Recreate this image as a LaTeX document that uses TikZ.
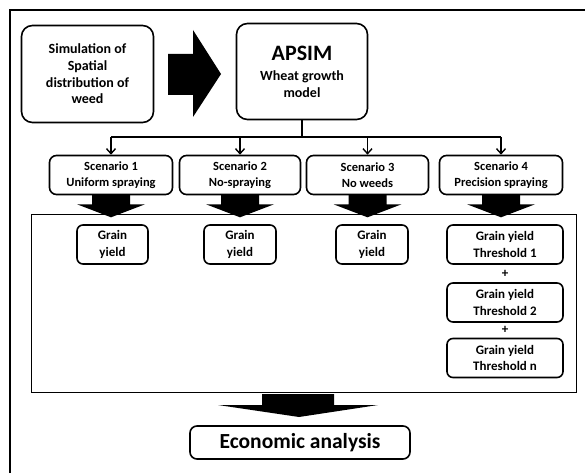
\documentclass[tikz,border=0pt]{standalone}
\usepackage{fontspec}
\setmainfont{Carlito}
\usetikzlibrary{arrows.meta}
\begin{document}
\begin{tikzpicture}[x=1pt,y=-1pt,
  box/.style={draw, line width=1.6pt, rounded corners=#1, align=center, inner sep=0pt},
  bigtxt/.style={font=\bfseries\fontsize{14}{16.7}\selectfont},
  scentxt/.style={font=\bfseries\fontsize{12.5}{16}\selectfont},
  graintxt/.style={font=\bfseries\fontsize{13}{16.5}\selectfont},
  conn/.style={line width=1.4pt},
  blk/.style={fill=black}]
\useasboundingbox (0,0) rectangle (585,473);
% outer frame
\draw[line width=1.2pt] (10,473) -- (10,10) -- (585,10);
% top row
\node[box=11pt, minimum width=132pt, minimum height=97pt, bigtxt] (sim) at (87.5,74)
  {Simulation of\\Spatial\\distribution of\\weed};
\node[box=11pt, minimum width=131pt, minimum height=96pt, font=\bfseries\fontsize{14}{17}\selectfont] (apsim) at (302,71.5)
  {{\fontsize{22}{24}\selectfont APSIM}\\[3pt]Wheat growth\\model};
\fill[blk] (168,54) -- (193,54) -- (193,30) -- (221,74) -- (193,117) -- (193,95) -- (168,95) -- cycle;
% scenarios
\node[box=7pt, minimum width=123pt, minimum height=39pt, scentxt] (s1) at (111,175) {Scenario 1\\Uniform spraying};
\node[box=7pt, minimum width=121pt, minimum height=39pt, scentxt] (s2) at (240,175) {Scenario 2\\No-spraying};
\node[box=7pt, minimum width=122pt, minimum height=39pt, scentxt] (s3) at (367.5,175) {Scenario 3\\No weeds};
\node[box=7pt, minimum width=123pt, minimum height=39pt, scentxt] (s4) at (501,175) {Scenario 4\\Precision spraying};
\coordinate (bus) at (0,137);
\draw[conn] (apsim.south) -- (apsim.south |- bus);
\draw[conn] (s1.north |- bus) -- (s4.north |- bus);
\foreach \s in {s1,s2,s3,s4}
  \draw[conn,-{Straight Barb[length=5pt,width=9pt]}] (\s.north |- bus) -- (\s.north);
% panel
\node[draw, line width=1.4pt, minimum width=545pt, minimum height=178pt, inner sep=0pt] (panel) at (304,303.5) {};
% block arrows under scenarios
\foreach \s in {s1,s2,s3,s4}
  \fill[blk, shift={(\s.south)}] (-19,-1) -- (19,-1) -- (19,9) -- (34,9) -- (0,22) -- (-34,9) -- (-19,9) -- cycle;
% grain yields
\node[box=6pt, minimum width=71pt, minimum height=39pt, graintxt] (g1) at (112.5,244.5) {Grain\\yield};
\node[box=6pt, minimum width=72pt, minimum height=39pt, graintxt] (g2) at (240,244.5) {Grain\\yield};
\node[box=6pt, minimum width=72pt, minimum height=39pt, graintxt] (g3) at (372,244.5) {Grain\\yield};
\node[box=6pt, minimum width=116pt, minimum height=39pt, graintxt] (g4a) at (505,244.5) {Grain yield\\Threshold 1};
\node[graintxt, inner sep=0pt] (p1) at (505,273.5) {+};
\node[box=6pt, minimum width=116pt, minimum height=39pt, graintxt] (g4b) at (505,302.5) {Grain yield\\Threshold 2};
\node[graintxt, inner sep=0pt] (p2) at (505,330) {+};
\node[box=6pt, minimum width=116pt, minimum height=39pt, graintxt] (g4c) at (505,358) {Grain yield\\Threshold n};
% bottom arrow and economic analysis
\fill[blk] (262,394) -- (334,394) -- (334,405) -- (378,405) -- (299,417) -- (218,405) -- (262,405) -- cycle;
\node[box=7pt, minimum width=220pt, minimum height=33pt, font=\bfseries\fontsize{21.5}{24}\selectfont] (econ) at (300,442.5) {Economic analysis};
\end{tikzpicture}
\end{document}
